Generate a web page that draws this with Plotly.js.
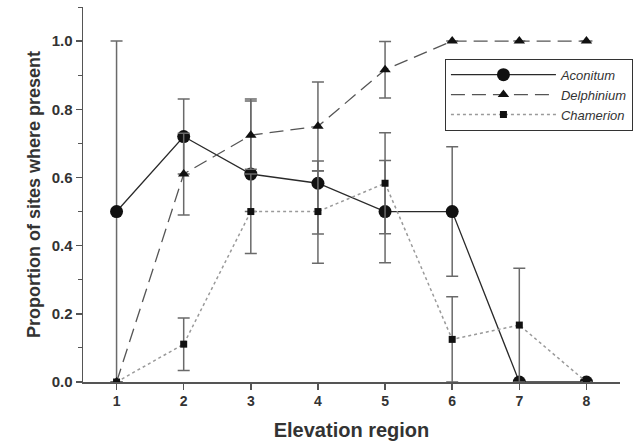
<!DOCTYPE html>
<html><head><meta charset="utf-8">
<script src="https://cdn.plot.ly/plotly-3.0.1.min.js"></script>
<style>html,body{margin:0;padding:0;background:#fff}</style>
</head><body><div id="chart" style="width:643px;height:446px"></div>
<script>
const regions = [1, 2, 3, 4, 5, 6, 7, 8];
const tickLabels = ['1', '2', '3', '4', '5', '6', '7', '8'];

const aconitum      = [0.5, 0.72, 0.61, 0.583, 0.5, 0.5, 0, 0];
const aconitumUp    = [0.5, 0.11, 0.22, 0.036, 0.15, 0.19, 0, 0];
const aconitumDown  = [0.5, 0.11, 0.11, 0.149, 0.15, 0.19, 0, 0];

const delphinium     = [0, 0.61, 0.724, 0.75, 0.916, 1.0, 1.0, 1.0];
const delphiniumUp   = [0, 0.12, 0.1, 0.13, 0.083, 0, 0, 0];
const delphiniumDown = [0, 0.12, 0.1, 0.13, 0.083, 0, 0, 0];

const chamerion      = [0, 0.111, 0.5, 0.5, 0.583, 0.125, 0.167, 0];
const chamerionUp    = [0, 0.077, 0.11, 0.148, 0.148, 0.125, 0.167, 0];
const chamerionDown  = [0, 0.077, 0.123, 0.152, 0.148, 0.125, 0.167, 0];

const errStyle = {type: 'data', symmetric: false, color: '#6a6a6a', thickness: 1.5, width: 6, visible: true};

const traces = [
  {x: regions, y: aconitum, name: 'Aconitum', mode: 'lines+markers',
   line: {color: '#2a2a2a', width: 1.3},
   marker: {symbol: 'circle', size: 13, color: '#111'},
   error_y: Object.assign({array: aconitumUp, arrayminus: aconitumDown}, errStyle)},
  {x: regions, y: delphinium, name: 'Delphinium', mode: 'lines+markers',
   line: {color: '#555', width: 1.3, dash: '14px,7px'},
   marker: {symbol: 'triangle-up', size: 10, color: '#111'},
   error_y: Object.assign({array: delphiniumUp, arrayminus: delphiniumDown}, errStyle)},
  {x: regions, y: chamerion, name: 'Chamerion', mode: 'lines+markers',
   line: {color: '#9a9a9a', width: 1.5, dash: 'dot'},
   marker: {symbol: 'square', size: 7, color: '#111'},
   error_y: Object.assign({array: chamerionUp, arrayminus: chamerionDown}, errStyle)}
];

const layout = {
  width: 643, height: 446,
  margin: {l: 83, r: 23, t: 7, b: 64},
  paper_bgcolor: '#fff', plot_bgcolor: '#fff',
  font: {family: 'Liberation Sans, Arial, sans-serif', color: '#333'},
  showlegend: true,
  legend: {x: 0.674, y: 0.862, xanchor: 'left', yanchor: 'top',
    bordercolor: '#333', borderwidth: 1, bgcolor: '#fff',
    font: {size: 13, style: 'italic', color: '#333'},
    itemwidth: 105, tracegroupgap: 0},
  xaxis: {range: [0.5, 8.5], tickvals: regions, ticktext: tickLabels,
    showgrid: false, zeroline: false, showline: true, linecolor: '#555', linewidth: 1.5,
    ticks: 'outside', ticklen: 6, tickwidth: 1.5, tickcolor: '#555',
    tickfont: {size: 14, weight: 'bold', color: '#333'},
    title: {text: 'Elevation region', font: {size: 20, weight: 'bold', color: '#333'}, standoff: 14}},
  yaxis: {range: [0, 1.1], tickvals: [0, 0.2, 0.4, 0.6, 0.8, 1.0],
    ticktext: ['0.0', '0.2', '0.4', '0.6', '0.8', '1.0'],
    showgrid: false, zeroline: false, showline: true, linecolor: '#555', linewidth: 1.5,
    ticks: 'outside', ticklen: 6, tickwidth: 1.5, tickcolor: '#555',
    minor: {dtick: 0.1, tick0: 0, ticks: 'outside', ticklen: 4, tickwidth: 1, tickcolor: '#555'},
    tickfont: {size: 15, weight: 'bold', color: '#333'},
    title: {text: 'Proportion of sites where present', font: {size: 18, weight: 'bold', color: '#333'}, standoff: 6}}
};

Plotly.newPlot('chart', traces, layout, {displayModeBar: false, staticPlot: true});
</script></body></html>
